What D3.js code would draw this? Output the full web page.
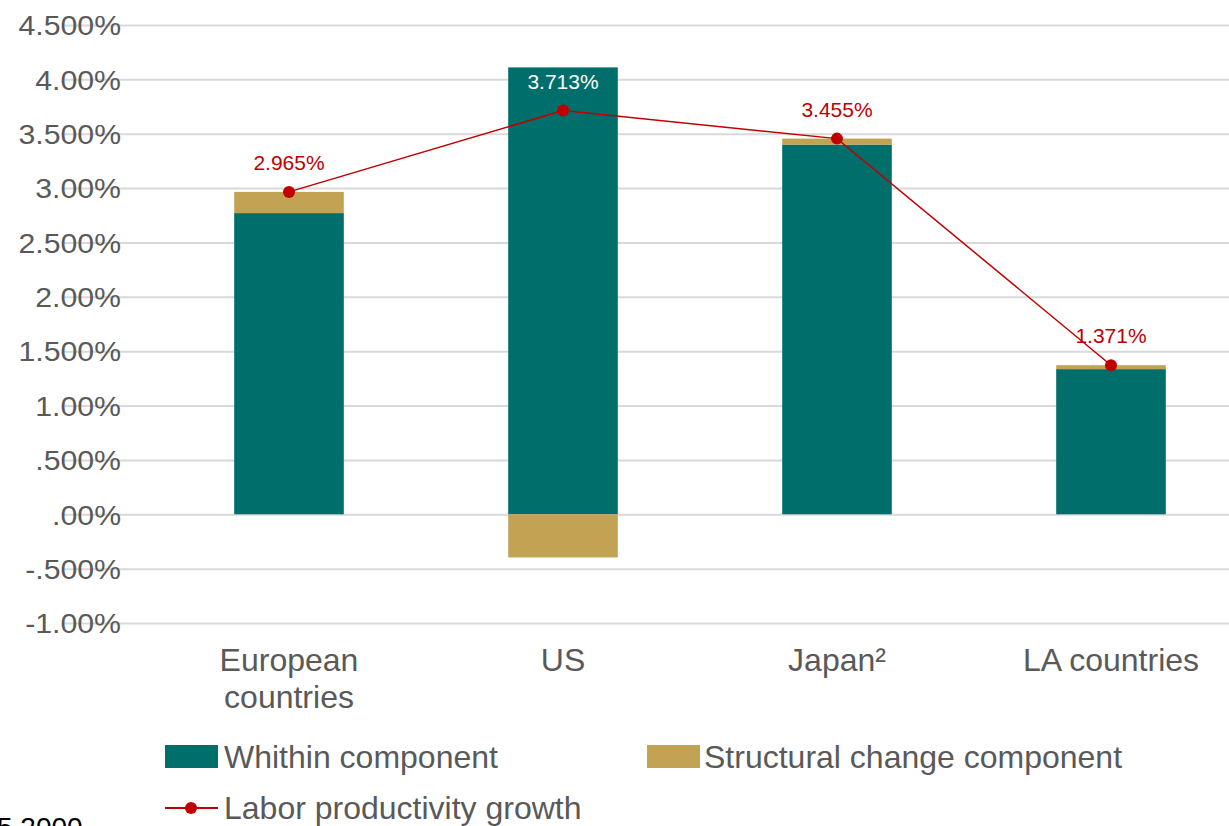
<!DOCTYPE html>
<html>
<head>
<meta charset="utf-8">
<script src="https://cdn.jsdelivr.net/npm/d3@7"></script>
<style>
  html, body { margin: 0; padding: 0; background: #fff; overflow: hidden; }
  svg { display: block; font-family: "Liberation Sans", Arial, sans-serif; }
</style>
</head>
<body>
<svg id="chart" width="1229" height="826"></svg>
<script>
const categories = ["European\ncountries", "US", "Japan²", "LA countries"];
const withinValues = [2.770, 4.110, 3.400, 1.335];
const structuralValues = [0.195, -0.397, 0.055, 0.036];
const productivityValues = [2.965, 3.713, 3.455, 1.371];
const productivityLabels = ["2.965%", "3.713%", "3.455%", "1.371%"];
const tickValues = [4.5, 4.0, 3.5, 3.0, 2.5, 2.0, 1.5, 1.0, 0.5, 0.0, -0.5, -1.0];
const tickLabels = ["4.500%", "4.00%", "3.500%", "3.00%", "2.500%", "2.00%", "1.500%", "1.00%", ".500%", ".00%", "-.500%", "-1.00%"];
const seriesNames = ["Whithin component", "Structural change component", "Labor productivity growth"];

const TEAL = "#006e6a", TAN = "#c2a253", RED = "#c00000", GRID = "#d9d9d9", TXT = "#595959";

const svg = d3.select("#chart");
const y = d3.scaleLinear().domain([-1.0, 4.5]).range([623, 25]);
const x = d3.scaleBand().domain(categories).range([152, 1248]).paddingInner(0.6).paddingOuter(0.3);

// gridlines + y axis
const yAxis = d3.axisLeft(y).tickValues(tickValues).tickSize(-(1229 - 64)).tickFormat((d, i) => tickLabels[i]).tickPadding(0);
const gAxis = svg.append("g").attr("transform", "translate(64,0)").call(yAxis);
gAxis.select(".domain").remove();
gAxis.selectAll(".tick line").attr("stroke", GRID).attr("stroke-width", 2);
gAxis.selectAll(".tick text").attr("fill", TXT).attr("font-size", 28).attr("dy", "0.35em")
  .attr("transform", "scale(1.08,1)").attr("text-anchor", "end").attr("x", 57 / 1.08);

// bars
const data = categories.map((c, i) => ({c, w: withinValues[i], s: structuralValues[i], p: productivityValues[i], l: productivityLabels[i]}));
svg.append("g").selectAll("rect").data(data).join("rect")
  .attr("x", d => x(d.c)).attr("width", x.bandwidth())
  .attr("y", d => y(d.w)).attr("height", d => y(0) - y(d.w)).attr("fill", TEAL);
svg.append("g").selectAll("rect").data(data).join("rect")
  .attr("x", d => x(d.c)).attr("width", x.bandwidth())
  .attr("y", d => d.s >= 0 ? y(d.w + d.s) : y(0))
  .attr("height", d => Math.abs(y(0) - y(d.s)))
  .attr("fill", TAN);

// line
const cx = d => x(d.c) + x.bandwidth() / 2;
svg.append("path").datum(data)
  .attr("d", d3.line().x(cx).y(d => y(d.p)))
  .attr("fill", "none").attr("stroke", RED).attr("stroke-width", 1.5);
svg.append("g").selectAll("circle").data(data).join("circle")
  .attr("cx", cx).attr("cy", d => y(d.p)).attr("r", 6).attr("fill", RED);
svg.append("g").selectAll("text").data(data).join("text")
  .attr("x", cx).attr("y", d => y(d.p) - 22)
  .attr("text-anchor", "middle").attr("font-size", 21)
  .attr("fill", d => d.c === "US" ? "#ffffff" : RED)
  .text(d => d.l);

// category labels
const cat = svg.append("g").selectAll("text").data(categories).join("text")
  .attr("x", d => x(d) + x.bandwidth() / 2).attr("y", 671)
  .attr("text-anchor", "middle").attr("font-size", 32).attr("fill", TXT);
cat.each(function(d) {
  const lines = d.split("\n");
  d3.select(this).selectAll("tspan").data(lines).join("tspan")
    .attr("x", x(d) + x.bandwidth() / 2).attr("dy", (l, i) => i === 0 ? 0 : 37).text(l => l);
});

// legend
const leg = svg.append("g");
leg.append("rect").attr("x", 165).attr("y", 745).attr("width", 53).attr("height", 23).attr("fill", TEAL);
leg.append("text").attr("x", 224).attr("y", 768).attr("font-size", 32).attr("fill", TXT).text(seriesNames[0]);
leg.append("rect").attr("x", 647).attr("y", 745).attr("width", 53).attr("height", 23).attr("fill", TAN);
leg.append("text").attr("x", 704).attr("y", 768).attr("font-size", 32).attr("fill", TXT).text(seriesNames[1]);
leg.append("line").attr("x1", 165).attr("x2", 218).attr("y1", 808).attr("y2", 808).attr("stroke", RED).attr("stroke-width", 2);
leg.append("circle").attr("cx", 191).attr("cy", 808).attr("r", 6).attr("fill", RED);
leg.append("text").attr("x", 224).attr("y", 819).attr("font-size", 32).attr("fill", TXT).text(seriesNames[2]);

// footnote, cut off at the bottom edge as in the reference
svg.append("text").attr("x", -3).attr("y", 837).attr("font-size", 28).attr("fill", "#000").text("5 2000");
</script>
</body>
</html>
